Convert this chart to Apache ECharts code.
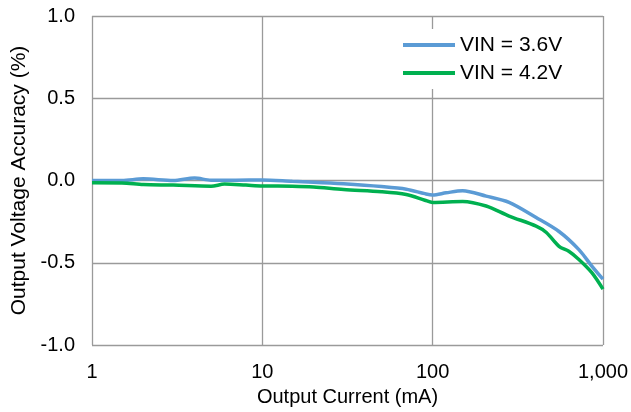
<!DOCTYPE html>
<html>
<head>
<meta charset="utf-8">
<script src="https://cdn.jsdelivr.net/npm/echarts@6/dist/echarts.min.js"></script>
<style>html,body{margin:0;padding:0;background:#fff;}#c{width:631px;height:412px;}</style>
</head>
<body>
<div id="c"></div>
<script>
var seriesNames = ['VIN = 3.6V', 'VIN = 4.2V'];
var vin36 = [[1,0.0],[1.5,0.0],[2,0.01],[3,0.0],[4,0.015],[5,0.002],[7,0.002],[10,0.003],[15,-0.005],[20,-0.01],[30,-0.02],[50,-0.037],[70,-0.053],[90,-0.08],[100,-0.088],[120,-0.075],[150,-0.062],[206,-0.095],[281,-0.133],[405,-0.225],[552,-0.31],[722,-0.42],[860,-0.52],[1000,-0.6]];
var vin42 = [[1,-0.014],[1.5,-0.015],[2,-0.025],[3,-0.028],[5,-0.035],[6,-0.022],[8,-0.028],[10,-0.033],[15,-0.035],[20,-0.04],[30,-0.055],[50,-0.068],[70,-0.085],[90,-0.12],[100,-0.133],[150,-0.127],[206,-0.155],[281,-0.216],[405,-0.277],[465,-0.316],[552,-0.4],[630,-0.43],[722,-0.48],[860,-0.56],[1000,-0.66]];
var yTicks = {min: -1, max: 1, interval: 0.5};
var xRange = {min: 1, max: 1000};
var colors = ['#5B9BD5', '#00B050'];
var font = 'Liberation Sans, Arial, sans-serif';
var chart = echarts.init(document.getElementById('c'), null, {renderer: 'canvas'});
chart.setOption({
  animation: false,
  backgroundColor: '#fff',
  grid: {left: 92, right: 27, top: 16, bottom: 66},
  legend: {
    orient: 'vertical', left: 397, top: 29, padding: [5, 6, 5, 6],
    backgroundColor: '#fff', itemWidth: 52, itemHeight: 4, itemGap: 6, icon: 'rect',
    textStyle: {fontFamily: font, fontSize: 21, color: '#000', lineHeight: 22},
    data: seriesNames
  },
  xAxis: {
    type: 'log', logBase: 10, min: xRange.min, max: xRange.max,
    name: 'Output Current (mA)', nameLocation: 'middle', nameGap: 42,
    nameTextStyle: {fontFamily: font, fontSize: 20, color: '#000'},
    axisLine: {show: false}, axisTick: {show: false},
    axisLabel: {fontFamily: font, fontSize: 20, color: '#000', margin: 17,
      formatter: function (v) { return Math.round(v).toLocaleString('en-US'); }},
    splitLine: {show: true, lineStyle: {color: '#9a9a9a', width: 1.3}}
  },
  yAxis: {
    type: 'value', min: yTicks.min, max: yTicks.max, interval: yTicks.interval,
    name: 'Output Voltage Accuracy (%)', nameLocation: 'middle', nameGap: 60,
    nameTextStyle: {fontFamily: font, fontSize: 21, color: '#000'},
    axisLine: {show: false}, axisTick: {show: false},
    axisLabel: {fontFamily: font, fontSize: 20, color: '#000', margin: 17,
      formatter: function (v) { return v.toFixed(1); }},
    splitLine: {show: true, lineStyle: {color: '#9a9a9a', width: 1.3}}
  },
  series: [
    {name: seriesNames[0], type: 'line', data: vin36, smooth: 0.3, showSymbol: false,
     lineStyle: {color: colors[0], width: 3.5}, itemStyle: {color: colors[0]}},
    {name: seriesNames[1], type: 'line', data: vin42, smooth: 0.3, showSymbol: false,
     lineStyle: {color: colors[1], width: 3.5}, itemStyle: {color: colors[1]}}
  ]
});
</script>
</body>
</html>
